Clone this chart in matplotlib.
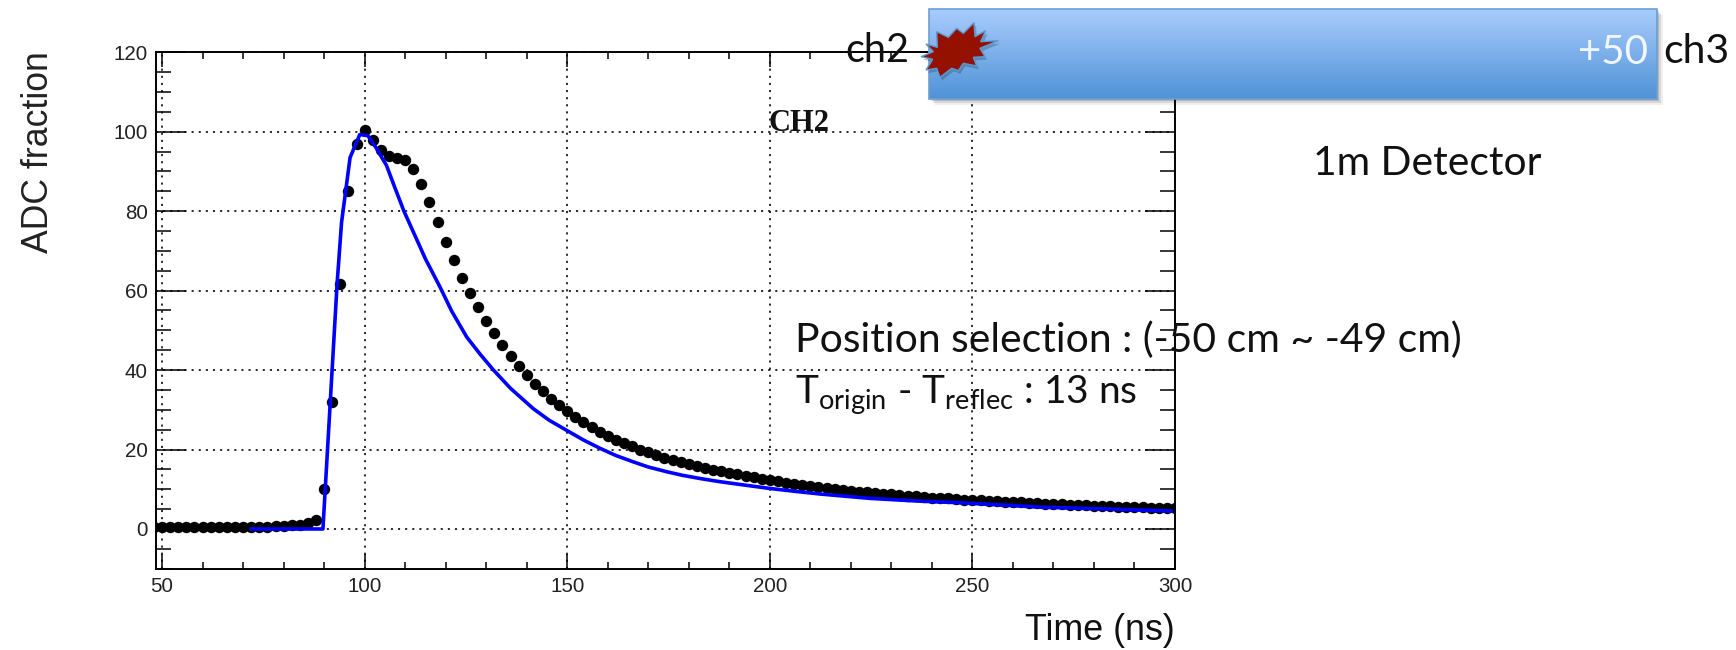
import matplotlib
matplotlib.use('Agg')
import numpy as np
import matplotlib.pyplot as plt
from matplotlib.patches import Polygon, Rectangle
from matplotlib.ticker import MultipleLocator

# points (2 ns bins)
time_ns = [48, 50, 52, 54, 56, 58, 60, 62, 64, 66,
           68, 70, 72, 74, 76, 78, 80, 82, 84, 86,
           88, 90, 92, 94, 96, 98, 100, 102, 104, 106,
           108, 110, 112, 114, 116, 118, 120, 122, 124, 126,
           128, 130, 132, 134, 136, 138, 140, 142, 144, 146,
           148, 150, 152, 154, 156, 158, 160, 162, 164, 166,
           168, 170, 172, 174, 176, 178, 180, 182, 184, 186,
           188, 190, 192, 194, 196, 198, 200, 202, 204, 206,
           208, 210, 212, 214, 216, 218, 220, 222, 224, 226,
           228, 230, 232, 234, 236, 238, 240, 242, 244, 246,
           248, 250, 252, 254, 256, 258, 260, 262, 264, 266,
           268, 270, 272, 274, 276, 278, 280, 282, 284, 286,
           288, 290, 292, 294, 296, 298, 300]
adc_fraction = [0.6, 0.6, 0.6, 0.6, 0.6, 0.6, 0.6, 0.6, 0.6, 0.6,
                0.6, 0.6, 0.6, 0.6, 0.6, 0.7, 0.8, 0.9, 1.1, 1.5,
                2.2, 10.0, 32.0, 61.7, 85.0, 96.9, 100.4, 98.0, 95.3, 93.8,
                93.5, 92.8, 90.6, 86.9, 82.2, 77.2, 72.3, 67.6, 63.3, 59.5,
                55.9, 52.4, 49.4, 46.4, 43.6, 41.0, 38.8, 36.6, 34.8, 32.8,
                31.2, 29.6, 28.2, 26.9, 25.6, 24.5, 23.5, 22.4, 21.6, 20.8,
                20.0, 19.4, 18.6, 17.9, 17.3, 16.8, 16.3, 15.8, 15.3, 14.9,
                14.5, 14.1, 13.8, 13.4, 13.0, 12.6, 12.3, 12.0, 11.7, 11.4,
                11.1, 10.9, 10.6, 10.4, 10.1, 9.9, 9.6, 9.4, 9.2, 9.0,
                8.9, 8.7, 8.5, 8.4, 8.2, 8.1, 7.9, 7.8, 7.7, 7.5,
                7.4, 7.3, 7.2, 7.1, 7.0, 6.9, 6.8, 6.7, 6.6, 6.5,
                6.4, 6.3, 6.2, 6.1, 6.0, 5.95, 5.9, 5.8, 5.7, 5.65,
                5.6, 5.5, 5.45, 5.4, 5.3, 5.25, 5.2]

# blue curve
model_time = [72, 89.7, 93.2, 94.3, 96.4, 98.8, 100.8, 102.8, 105.4, 107.5,
              109.7, 112, 115, 118.6, 121.5, 125.2, 128.5, 131.8, 136, 141.6,
              145.5, 149.9, 154, 158.1, 162, 166.3, 170, 174.6, 178.5, 182.8,
              187.7, 192.7, 200, 206, 212.4, 224.7, 237, 247, 266.7, 291, 299]
model_adc = [0, 0, 61.8, 77.2, 93.5, 99.3, 99.0, 96.0, 91.5, 85.8,
             80.0, 74.8, 68.0, 60.9, 54.8, 48.3, 44.0, 40.0, 35.4, 30.3,
             27.4, 24.8, 22.4, 20.3, 18.5, 16.9, 15.6, 14.4, 13.5, 12.7,
             11.9, 11.2, 10.2, 9.5, 8.8, 7.7, 7.0, 6.6, 5.5, 4.8, 4.5]

x_major = [50, 100, 150, 200, 250, 300]
y_major = [0, 20, 40, 60, 80, 100, 120]

W, H = 1736, 650
plt.rcParams['mathtext.fontset'] = 'custom'
plt.rcParams['mathtext.rm'] = 'Lato'
fig = plt.figure(figsize=(W / 100, H / 100), dpi=100)

# main plot, ROOT style
ax = fig.add_axes([156 / W, (H - 568.7) / H, (1175 - 156) / W, (568.7 - 52.3) / H])
ax.set_xlim(48.5, 300)
ax.set_ylim(-10, 120)
ax.set_xticks(x_major)
ax.set_yticks(y_major)
ax.xaxis.set_minor_locator(MultipleLocator(10))
ax.yaxis.set_minor_locator(MultipleLocator(5))
ax.grid(True, which='major', color='#111111', linewidth=1.25, linestyle=(0, (1.2, 2.9)))
ax.set_axisbelow(True)
ax.tick_params(axis='x', which='major', direction='in', top=True, length=10.5, width=1.1, pad=6)
ax.tick_params(axis='x', which='minor', direction='in', top=True, length=5, width=1.1)
ax.tick_params(axis='y', which='major', direction='in', right=True, length=21.5, width=1.1, pad=6)
ax.tick_params(axis='y', which='minor', direction='in', right=True, length=10.5, width=1.1)
for s in ax.spines.values():
    s.set_linewidth(1.4)
for lab in ax.get_xticklabels() + ax.get_yticklabels():
    lab.set_family('Liberation Sans')
    lab.set_fontsize(14.8)
    lab.set_color('#222222')

ax.plot(time_ns, adc_fraction, 'o', color='black', markersize=8.2, markeredgewidth=0, zorder=3)
ax.plot(model_time, model_adc, color='#0000FF', linewidth=2.6, zorder=4)

# everything pasted over the plot, in pixels
ov = fig.add_axes([0, 0, 1, 1])
ov.set_xlim(0, W)
ov.set_ylim(H, 0)
ov.axis('off')
ov.patch.set_alpha(0)

ov.text(38.5, 152, 'ADC fraction', rotation=90, ha='center', va='center',
        family='Liberation Sans', fontsize=25.7, color='#222222')
ov.text(1175, 630, 'Time (ns)', ha='right', va='center',
        family='Liberation Sans', fontsize=25.8, color='#111111')
ov.text(768, 131, 'CH2', ha='left', va='baseline',
        family='Liberation Serif', weight='bold', fontsize=22, color='#111111')

# detector bar with gradient and soft shadow
for off, a in [(6, 0.06), (4, 0.10), (2, 0.15)]:
    ov.add_patch(Rectangle((929 + off, 9 + off), 728, 90, color='black', alpha=a, lw=0, zorder=2))
grad = np.linspace(0, 1, 200)[:, None, None] * (np.array([0x4F, 0x93, 0xD6]) - np.array([0xA9, 0xCC, 0xFD])) + np.array([0xA9, 0xCC, 0xFD])
ov.imshow(grad / 255, extent=[929, 1657, 98.7, 9], aspect='auto', zorder=3)
ov.set_xlim(0, W)
ov.set_ylim(H, 0)
ov.add_patch(Rectangle((929, 9), 728, 89.7, fill=False, edgecolor='#6C9FD2', lw=1.2, zorder=4))

star = [(318, 132), (352, 142), (350, 95), (385, 112), (410, 85), (430, 100), (462, 68),
        (465, 110), (497, 92), (482, 125), (535, 122), (480, 145), (495, 170), (460, 172),
        (470, 198), (430, 190), (415, 212), (395, 205), (360, 232), (350, 205), (318, 210),
        (338, 178), (303, 170), (340, 155)]
star_px = [(820 + a / 3, b / 3) for a, b in star]
ov.add_patch(Polygon([(a + 2, b + 3) for a, b in star_px], closed=True, color='black', alpha=0.2, lw=0, zorder=5))
ov.add_patch(Polygon(star_px, closed=True, facecolor='#941100', edgecolor='#5B9BD5', lw=1.0, zorder=6))

fam = 'Lato'
ov.text(845, 62, 'ch2', family=fam, fontsize=28.5, color='#111111', va='baseline', zorder=7)
ov.text(1663, 63, 'ch3', family=fam, fontsize=29.5, color='#111111', va='baseline', zorder=7)
ov.text(1578, 64, '+50', family=fam, fontsize=29, color='#F2F7FD', va='baseline', zorder=7)
ov.text(1313, 175, '1m Detector', family=fam, fontsize=29.3, color='#111111', va='baseline', zorder=7)
ov.text(795, 352, 'Position selection : (-50 cm ~ -49 cm)', family=fam, fontsize=29.4,
        color='#111111', va='baseline', zorder=7)
ov.text(795, 404, r'T$_{\mathrm{origin}}$ - T$_{\mathrm{reflec}}$ : 13 ns', family=fam, fontsize=28,
        color='#111111', va='baseline', zorder=7)

fig.savefig('out.png', dpi=100)
